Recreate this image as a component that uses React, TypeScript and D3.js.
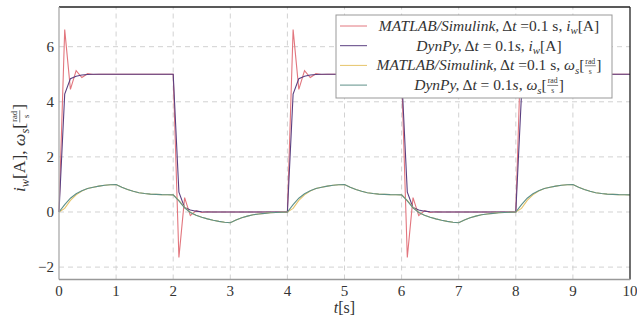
import React, { useEffect, useRef } from "react";
import * as d3 from "d3";

// samples every dt = 0.1 s, t = 0 .. 10
const time = d3.range(101).map((i) => i / 10);

// MATLAB/Simulink, i_w [A]
const matlabI = [
  0, 6.62, 4.45, 5.13, 4.88, 5.02, 4.99, 5, 5, 5,
  5, 5, 5, 5, 5, 5, 5, 5, 5, 5,
  5, -1.65, 0.52, -0.13, 0.05, -0.02, 0.01, 0, 0, 0,
  0, 0, 0, 0, 0, 0, 0, 0, 0, 0,
  0, 6.62, 4.45, 5.13, 4.88, 5.02, 4.99, 5, 5, 5,
  5, 5, 5, 5, 5, 5, 5, 5, 5, 5,
  5, -1.65, 0.52, -0.13, 0.05, -0.02, 0.01, 0, 0, 0,
  0, 0, 0, 0, 0, 0, 0, 0, 0, 0,
  0, 6.62, 4.45, 5.13, 4.88, 5.02, 4.99, 5, 5, 5,
  5, 5, 5, 5, 5, 5, 5, 5, 5, 5,
  5,
];

// DynPy, i_w [A]
const dynpyI = [
  0, 4.28, 4.84, 4.93, 4.97, 4.99, 5, 5, 5, 5,
  5, 5, 5, 5, 5, 5, 5, 5, 5, 5,
  5, 0.72, 0.16, 0.07, 0.03, 0.01, 0, 0, 0, 0,
  0, 0, 0, 0, 0, 0, 0, 0, 0, 0,
  0, 4.28, 4.84, 4.93, 4.97, 4.99, 5, 5, 5, 5,
  5, 5, 5, 5, 5, 5, 5, 5, 5, 5,
  5, 0.72, 0.16, 0.07, 0.03, 0.01, 0, 0, 0, 0,
  0, 0, 0, 0, 0, 0, 0, 0, 0, 0,
  0, 4.28, 4.84, 4.93, 4.97, 4.99, 5, 5, 5, 5,
  5, 5, 5, 5, 5, 5, 5, 5, 5, 5,
  5,
];

// MATLAB/Simulink, omega_s [rad/s]
const matlabW = [
  0, 0.13, 0.42, 0.62, 0.76, 0.85, 0.9, 0.94, 0.97, 0.99,
  1.0, 0.9, 0.82, 0.75, 0.7, 0.67, 0.65, 0.64, 0.63, 0.625,
  0.62, 0.42, 0.17, -0.01, -0.12, -0.19, -0.25, -0.3, -0.34, -0.37,
  -0.39, -0.29, -0.21, -0.15, -0.1, -0.07, -0.05, -0.03, -0.02, -0.01,
  0, 0.13, 0.42, 0.62, 0.76, 0.85, 0.9, 0.94, 0.97, 0.99,
  1.0, 0.9, 0.82, 0.75, 0.7, 0.67, 0.65, 0.64, 0.63, 0.625,
  0.62, 0.42, 0.17, -0.01, -0.12, -0.19, -0.25, -0.3, -0.34, -0.37,
  -0.39, -0.29, -0.21, -0.15, -0.1, -0.07, -0.05, -0.03, -0.02, -0.01,
  0, 0.13, 0.42, 0.62, 0.76, 0.85, 0.9, 0.94, 0.97, 0.99,
  1.0, 0.9, 0.82, 0.75, 0.7, 0.67, 0.65, 0.64, 0.63, 0.625,
  0.62,
];

// DynPy, omega_s [rad/s]
const dynpyW = [
  0, 0.27, 0.5, 0.66, 0.77, 0.85, 0.9, 0.94, 0.97, 0.99,
  1.0, 0.9, 0.82, 0.75, 0.7, 0.67, 0.65, 0.64, 0.63, 0.625,
  0.62, 0.4, 0.15, -0.02, -0.12, -0.19, -0.25, -0.3, -0.34, -0.37,
  -0.39, -0.29, -0.21, -0.15, -0.1, -0.07, -0.05, -0.03, -0.02, -0.01,
  0, 0.27, 0.5, 0.66, 0.77, 0.85, 0.9, 0.94, 0.97, 0.99,
  1.0, 0.9, 0.82, 0.75, 0.7, 0.67, 0.65, 0.64, 0.63, 0.625,
  0.62, 0.4, 0.15, -0.02, -0.12, -0.19, -0.25, -0.3, -0.34, -0.37,
  -0.39, -0.29, -0.21, -0.15, -0.1, -0.07, -0.05, -0.03, -0.02, -0.01,
  0, 0.27, 0.5, 0.66, 0.77, 0.85, 0.9, 0.94, 0.97, 0.99,
  1.0, 0.9, 0.82, 0.75, 0.7, 0.67, 0.65, 0.64, 0.63, 0.625,
  0.62,
];

const xTicks = [0, 1, 2, 3, 4, 5, 6, 7, 8, 9, 10];
const yTicks = [-2, 0, 2, 4, 6];

type Seg = { t?: string; it?: boolean; sub?: string; frac?: [string, string] };

const series = [
  {
    values: matlabI,
    color: "#e2767e",
    label: [
      { t: "MATLAB/Simulink,", it: true }, { t: " Δ" }, { t: "t", it: true },
      { t: " =0.1 s, " }, { t: "i", it: true }, { sub: "w" }, { t: "[A]" },
    ] as Seg[],
  },
  {
    values: dynpyI,
    color: "#5a3f80",
    label: [
      { t: "DynPy,", it: true }, { t: " Δ" }, { t: "t", it: true },
      { t: " = 0.1" }, { t: "s", it: true }, { t: ", " }, { t: "i", it: true },
      { sub: "w" }, { t: "[A]" },
    ] as Seg[],
  },
  {
    values: matlabW,
    color: "#e6c46a",
    label: [
      { t: "MATLAB/Simulink,", it: true }, { t: " Δ" }, { t: "t", it: true },
      { t: " =0.1 s, " }, { t: "ω", it: true }, { sub: "s" }, { t: "[" },
      { frac: ["rad", "s"] }, { t: "]" },
    ] as Seg[],
  },
  {
    values: dynpyW,
    color: "#5e9088",
    label: [
      { t: "DynPy,", it: true }, { t: " Δ" }, { t: "t", it: true },
      { t: " = 0.1" }, { t: "s", it: true }, { t: ", " }, { t: "ω", it: true },
      { sub: "s" }, { t: "[" }, { frac: ["rad", "s"] }, { t: "]" },
    ] as Seg[],
  },
];

const FONT = "Liberation Serif, DejaVu Serif, Times New Roman, serif";
const INK = "#333";

// lays segments out left to right from x=0, returns total width
function richText(g: any, segs: Seg[], size: number) {
  let cx = 0;
  const put = (s: string, x: number, y: number, fs: number, it = false, anchor = "start") => {
    const n = g.append("text")
      .attr("x", x).attr("y", y)
      .attr("text-anchor", anchor)
      .style("font-family", FONT)
      .style("font-size", fs + "px")
      .style("font-style", it ? "italic" : "normal")
      .style("white-space", "pre")
      .attr("fill", INK)
      .text(s);
    return (n.node() as SVGTextElement).getComputedTextLength();
  };
  segs.forEach((s) => {
    if (s.t) cx += put(s.t, cx, 0, size, s.it);
    else if (s.sub) cx += put(s.sub, cx, size * 0.22, size * 0.7, true);
    else if (s.frac) {
      const fs = size * 0.5;
      const probe = g.append("g");
      const m1 = probe.append("text").style("font-family", FONT).style("font-size", fs + "px").text(s.frac[0]);
      const m2 = probe.append("text").style("font-family", FONT).style("font-size", fs + "px").text(s.frac[1]);
      const w = Math.max(m1.node().getComputedTextLength(), m2.node().getComputedTextLength()) + 2;
      probe.remove();
      put(s.frac[0], cx + w / 2, -size * 0.44, fs, false, "middle");
      put(s.frac[1], cx + w / 2, size * 0.2, fs, false, "middle");
      g.append("line")
        .attr("x1", cx + 0.5).attr("x2", cx + w - 0.5)
        .attr("y1", -size * 0.3).attr("y2", -size * 0.3)
        .attr("stroke", INK).attr("stroke-width", 0.6);
      cx += w;
    }
  });
  return cx;
}

export default function App() {
  const ref = useRef<SVGSVGElement>(null);

  useEffect(() => {
    const W = 637, H = 322;
    const m = { top: 7, right: 7, bottom: 42.5, left: 59 };
    const svg = d3.select(ref.current);
    svg.selectAll("*").remove();

    const x = d3.scaleLinear().domain([0, 10]).range([m.left, W - m.right]);
    const y = d3.scaleLinear().domain([-2.45, 7.44]).range([H - m.bottom, m.top]);

    // grid
    svg.append("g").selectAll("line").data(xTicks.slice(1, -1)).join("line")
      .attr("x1", (d) => x(d)).attr("x2", (d) => x(d))
      .attr("y1", y.range()[0]).attr("y2", y.range()[1])
      .attr("stroke", "#d2d2d2").attr("stroke-dasharray", "5,4");
    svg.append("g").selectAll("line").data(yTicks).join("line")
      .attr("x1", x.range()[0]).attr("x2", x.range()[1])
      .attr("y1", (d) => y(d)).attr("y2", (d) => y(d))
      .attr("stroke", "#d2d2d2").attr("stroke-dasharray", "5,4");

    // curves
    const line = d3.line<number>().x((_, i) => x(time[i])).y((d) => y(d));
    series.forEach((s) => {
      svg.append("path").datum(s.values)
        .attr("d", line).attr("fill", "none")
        .attr("stroke", s.color).attr("stroke-width", 1.1);
    });

    // frame
    const [x0, x1] = x.range();
    const [yb, yt] = y.range();
    svg.append("line").attr("x1", x0).attr("x2", x1).attr("y1", yt).attr("y2", yt)
      .attr("stroke", "#222").attr("stroke-width", 1.3);
    svg.append("line").attr("x1", x1).attr("x2", x1).attr("y1", yt).attr("y2", yb)
      .attr("stroke", "#222").attr("stroke-width", 1.3);
    svg.append("line").attr("x1", x0).attr("x2", x0).attr("y1", yt).attr("y2", yb)
      .attr("stroke", "#aaa").attr("stroke-width", 1.3);
    svg.append("line").attr("x1", x0).attr("x2", x1).attr("y1", yb).attr("y2", yb)
      .attr("stroke", "#999").attr("stroke-width", 1.6);

    // tick labels
    svg.append("g").selectAll("text").data(xTicks).join("text")
      .attr("x", (d) => x(d)).attr("y", yb + 16)
      .attr("text-anchor", "middle").style("font-family", FONT).style("font-size", "15px").attr("fill", INK)
      .text((d) => d);
    svg.append("g").selectAll("text").data(yTicks).join("text")
      .attr("x", 54).attr("y", (d) => y(d) + 5)
      .attr("text-anchor", "end").style("font-family", FONT).style("font-size", "15px").attr("fill", INK)
      .text((d) => (d < 0 ? "−" + Math.abs(d) : d));

    // axis titles
    const xl = svg.append("g");
    const xw = richText(xl, [{ t: "t", it: true }, { t: "[s]" }], 16);
    xl.attr("transform", `translate(${(x0 + x1) / 2 - xw / 2},${yb + 33})`);

    const yl = svg.append("g");
    const yw = richText(yl, [
      { t: "i", it: true }, { sub: "w" }, { t: "[A], " }, { t: "ω", it: true },
      { sub: "s" }, { t: "[" }, { frac: ["rad", "s"] }, { t: "]" },
    ], 17.5);
    yl.attr("transform", `translate(25,${148 + yw / 2}) rotate(-90)`);

    // legend
    const lg = svg.append("g");
    lg.append("rect").attr("x", 336).attr("y", 15).attr("width", 276).attr("height", 83)
      .attr("fill", "white").attr("stroke", "#999").attr("stroke-width", 1);
    series.forEach((s, i) => {
      const ry = 26 + i * 19.7;
      lg.append("line").attr("x1", 340).attr("x2", 367).attr("y1", ry).attr("y2", ry)
        .attr("stroke", s.color).attr("stroke-width", 1);
      const row = lg.append("g");
      const w = richText(row, s.label, 15.5);
      row.attr("transform", `translate(${489 - w / 2},${ry + 5})`);
    });
  }, []);

  return (
    <svg
      ref={ref}
      width={637}
      height={322}
      style={{ position: "absolute", left: 0, top: 0, background: "white" }}
    />
  );
}
